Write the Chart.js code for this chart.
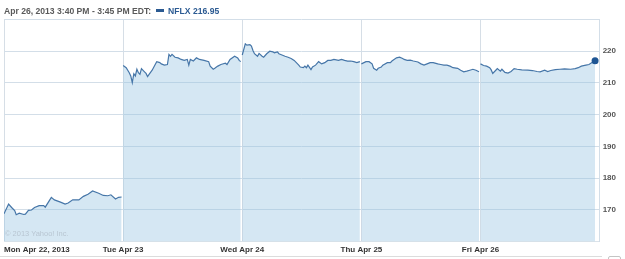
<!DOCTYPE html>
<html>
<head>
<meta charset="utf-8">
<script src="https://cdn.jsdelivr.net/npm/chart.js@4.4.1/dist/chart.umd.min.js"></script>
<style>
  html, body { margin:0; padding:0; background:#fff; }
  #wrap { position:relative; width:625px; height:259px; overflow:hidden; font-family:"Liberation Sans", Arial, sans-serif; }
  #c { position:absolute; left:0; top:0; }
  #hdr { position:absolute; left:4px; top:6px; font-size:8.6px; font-weight:bold; white-space:nowrap; line-height:11px; }
  #hdr .t { color:#5a5a5a; }
  #hdr .m { display:inline-block; width:8px; height:3px; background:#2b5a92; margin:0 4px 2px 5px; vertical-align:middle; }
  #hdr .s { color:#2b5a92; }
  #wm { position:absolute; left:5px; top:229px; font-size:7.5px; color:#b8c6d2; white-space:nowrap; }
  #bl { position:absolute; left:0; top:256px; width:602px; height:1px; background:#dcdcdc; }
  #bx { position:absolute; left:608px; top:256px; width:11px; height:8px; border:1px solid #c4c4c4; border-radius:2px; }
</style>
</head>
<body>
<div id="wrap">
  <canvas id="c" width="625" height="259"></canvas>
  <div id="hdr"><span class="t">Apr 26, 2013 3:40 PM - 3:45 PM EDT:</span><span class="m"></span><span class="s">NFLX 216.95</span></div>
  <div id="wm">© 2013 Yahoo! Inc.</div>
  <div id="bl"></div>
  <div id="bx"></div>
</div>
<script>
// Tick labels (one per trading day) and session length in minutes
const dayLabels = ['Mon Apr 22, 2013', 'Tue Apr 23', 'Wed Apr 24', 'Thu Apr 25', 'Fri Apr 26', ''];
const sessionMinutes = 390;

// Minutes after 9:30 open, and NFLX price, per day
const monTime  = [0,15,25,35,40,50,65,70,80,90,100,115,130,135,155,165,185,200,210,225,245,260,275,290,310,325,340,350,365,375,385];
const monPrice = [168.7,171.8,170.7,169.7,168.4,168.9,168.5,168.6,169.8,169.9,170.7,171.3,171.3,170.8,173.9,173.1,172.4,171.8,172.1,173.1,173.1,174.2,174.9,175.9,175.2,174.5,174.4,174.7,173.4,173.9,174.0];

const tueTime  = [0,10,20,25,30,35,40,45,50,55,60,70,75,80,85,95,105,110,120,125,135,145,150,155,160,170,180,190,200,210,215,220,230,240,250,265,280,285,295,300,310,320,335,340,350,365,375,380,385];
const tuePrice = [215.5,214.8,213.2,212.2,210.1,212.9,212.2,214.3,213.2,212.7,214.5,213.5,213.0,212.0,212.7,214.0,215.8,216.7,216.4,216.0,215.6,215.8,219.0,218.4,219.0,218.1,217.9,217.4,217.1,217.4,215.6,217.4,216.9,217.9,217.4,217.1,216.7,215.3,214.3,214.6,215.3,215.8,216.2,215.8,217.4,218.4,217.9,217.1,216.7];

const wedTime  = [0,10,15,25,30,35,40,50,55,65,70,80,90,100,105,115,120,130,140,150,160,170,185,190,200,205,210,215,225,230,240,250,260,270,280,290,300,315,325,335,345,355,365,375,385];
const wedPrice = [218.8,222.3,221.9,222.1,221.6,220.2,219.2,218.4,219.3,218.4,218.1,219.2,220.0,219.8,219.5,219.8,219.2,218.8,218.4,218.1,217.7,217.1,215.6,215.0,214.8,215.3,214.8,215.6,214.2,215.0,215.6,216.7,216.0,216.4,217.1,217.1,217.4,217.1,217.4,217.1,216.9,216.9,216.7,216.4,216.7];

const thuTime  = [0,15,25,35,40,50,55,65,70,85,95,100,115,125,135,140,150,160,170,185,195,205,215,225,235,250,260,270,280,290,300,315,325,335,345,355,365,375,385];
const thuPrice = [216.0,216.7,216.7,216.0,214.6,214.0,214.6,215.0,215.6,216.4,216.4,216.9,217.9,218.1,217.7,217.4,217.1,217.2,216.9,216.6,216.0,215.6,216.0,216.4,216.4,216.0,215.8,215.6,215.6,215.3,214.8,214.6,214.0,213.5,213.7,214.0,214.3,214.0,213.5];

const friTime  = [0,10,20,30,35,40,50,55,65,70,80,90,100,110,120,135,155,170,185,195,210,220,230,245,260,275,295,310,320,330,345,355,365,375];
const friPrice = [216.0,215.5,215.3,214.8,214.1,213.0,214.0,214.5,213.7,214.3,213.3,213.1,213.6,214.5,214.3,214.1,214.0,213.9,213.6,213.5,214.0,213.6,213.9,214.2,214.3,214.4,214.3,214.5,214.8,215.3,215.6,215.8,216.4,216.95];

const days = [[monTime, monPrice],[tueTime, tuePrice],[wedTime, wedPrice],[thuTime, thuPrice],[friTime, friPrice]];

const points = [];
days.forEach(([t, p], d) => {
  if (d > 0) points.push({ x: d * sessionMinutes - 1, y: null });
  t.forEach((m, i) => points.push({ x: d * sessionMinutes + m, y: p[i] }));
});
const lastIdx = points.length - 1;
const tickValues = dayLabels.map((_, i) => i * sessionMinutes);

const tickFont = { family: '"Liberation Sans", Arial, sans-serif', size: 8, weight: 'bold' };

new Chart(document.getElementById('c'), {
  type: 'line',
  data: {
    datasets: [{
      label: 'NFLX',
      data: points,
      borderColor: '#4676a8',
      borderWidth: 1.2,
      backgroundColor: 'rgba(150,195,225,0.4)',
      fill: 'start',
      tension: 0,
      spanGaps: false,
      pointRadius: c => c.dataIndex === lastIdx ? 3.5 : 0,
      pointBackgroundColor: '#1f5694',
      pointBorderWidth: 0,
      pointHoverRadius: 0
    }]
  },
  options: {
    responsive: false,
    animation: false,
    events: [],
    layout: { padding: { left: 2, right: 6, top: 19.5, bottom: 0 } },
    plugins: { legend: { display: false }, tooltip: { enabled: false } },
    scales: {
      x: {
        type: 'linear',
        min: 0,
        max: sessionMinutes * 5,
        afterBuildTicks: s => { s.ticks = tickValues.map(v => ({ value: v })); },
        ticks: {
          autoSkip: false,
          maxRotation: 0,
          align: 'inner',
          padding: 4,
          font: tickFont,
          color: '#333',
          callback: (v, i) => dayLabels[i] ?? ''
        },
        grid: { color: '#d6dee6', drawTicks: false },
        border: { color: '#dbe3ea' }
      },
      y: {
        position: 'right',
        min: 160,
        max: 230,
        ticks: {
          stepSize: 10,
          padding: 3,
          font: tickFont,
          color: '#555',
          callback: v => (v > 160 && v < 230) ? String(v) : ''
        },
        grid: { color: '#d3dee8', drawTicks: false },
        border: { display: true, color: '#d3dee8' }
      }
    }
  }
});
</script>
</body>
</html>
